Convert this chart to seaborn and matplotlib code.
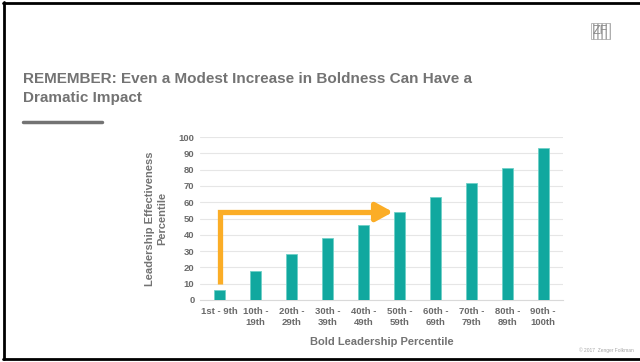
import matplotlib
matplotlib.use("Agg")
import matplotlib.pyplot as plt
import seaborn as sns
import pandas as pd

# data
bold_pct = ["1st - 9th", "10th -\n19th", "20th -\n29th", "30th -\n39th", "40th -\n49th",
            "50th -\n59th", "60th -\n69th", "70th -\n79th", "80th -\n89th", "90th -\n100th"]
effectiveness = [6, 18, 28, 38, 46, 54, 63, 72, 81, 93]
yticks = list(range(0, 101, 10))

df = pd.DataFrame({"bold": bold_pct, "eff": effectiveness})

sns.set_style("white")
plt.rcParams["font.family"] = ["Liberation Sans", "DejaVu Sans"]

teal = "#11A89F"
grey = "#737373"
orange = "#FBAD26"

fig = plt.figure(figsize=(6.4, 3.62), dpi=100)
ax = fig.add_axes([0.3125, 0.1713, 0.567, 0.450])

sns.barplot(data=df, x="bold", y="eff", color=teal, width=0.3, saturation=1,
            edgecolor="#6FD0C8", linewidth=0.6, ax=ax, zorder=3)

ax.set_ylim(0, 100)
ax.set_xlim(-0.55, 9.55)
ax.set_yticks(yticks)
ax.yaxis.grid(True, color="#E6E6E6", linewidth=0.8, zorder=0)
for s in ["top", "right", "left"]:
    ax.spines[s].set_visible(False)
ax.spines["bottom"].set_color("#D9D9D9")
ax.tick_params(axis="both", length=0, labelsize=6.8, labelcolor="#6A6A6A")
ax.tick_params(axis="x", pad=5)
ax.tick_params(axis="y", pad=4)
for lab in ax.get_xticklabels() + ax.get_yticklabels():
    lab.set_fontweight("bold")
for lab in ax.get_xticklabels():
    lab.set_multialignment("center")
    lab.set_linespacing(1.3)
ax.set_xlabel("Bold Leadership Percentile", fontsize=8, fontweight="bold", color=grey, labelpad=7)
ax.set_ylabel("Leadership Effectiveness\nPercentile", fontsize=8, fontweight="bold",
              color=grey, labelpad=8, linespacing=1.25)

# orange arrow: up from the first bar, then across to the 50th-59th bar
ax.plot([0, 0, 4.4], [10, 54, 54], color=orange, linewidth=3.8, solid_capstyle="butt",
        solid_joinstyle="miter", zorder=4, clip_on=False)
ax.annotate("", xy=(4.82, 54), xytext=(4.35, 54),
            arrowprops=dict(arrowstyle="-|>,head_length=1.0,head_width=0.55",
                            color=orange, linewidth=3.8, shrinkA=0, shrinkB=0),
            zorder=5)

# slide decoration
fig.text(0.036, 0.782, "REMEMBER: Even a Modest Increase in Boldness Can Have a",
         fontsize=11, fontweight="bold", color=grey, ha="left", va="center")
fig.text(0.036, 0.730, "Dramatic Impact",
         fontsize=11, fontweight="bold", color=grey, ha="left", va="center")
fig.add_artist(plt.Line2D([0.036, 0.159], [0.663, 0.663], color=grey, linewidth=2.5))
fig.add_artist(plt.Line2D([0.006, 0.006], [0.008, 0.994], color="black", linewidth=2))
fig.add_artist(plt.Line2D([0.005, 1.0], [0.992, 0.992], color="black", linewidth=2))
fig.add_artist(plt.Line2D([0.005, 1.0], [0.008, 0.008], color="black", linewidth=2))
fig.text(0.938, 0.915, "ZF", fontsize=9, color="#8C8C8C", ha="center", va="center",
         bbox=dict(facecolor="white", edgecolor="#A0A0A0", hatch="||||", linewidth=0.5, pad=1.5))
fig.text(0.99, 0.028, "\u00a9 2017  Zenger Folkman", fontsize=3.5, color="#A6A6A6", ha="right")

fig.savefig("out.png", dpi=100, facecolor="white")
